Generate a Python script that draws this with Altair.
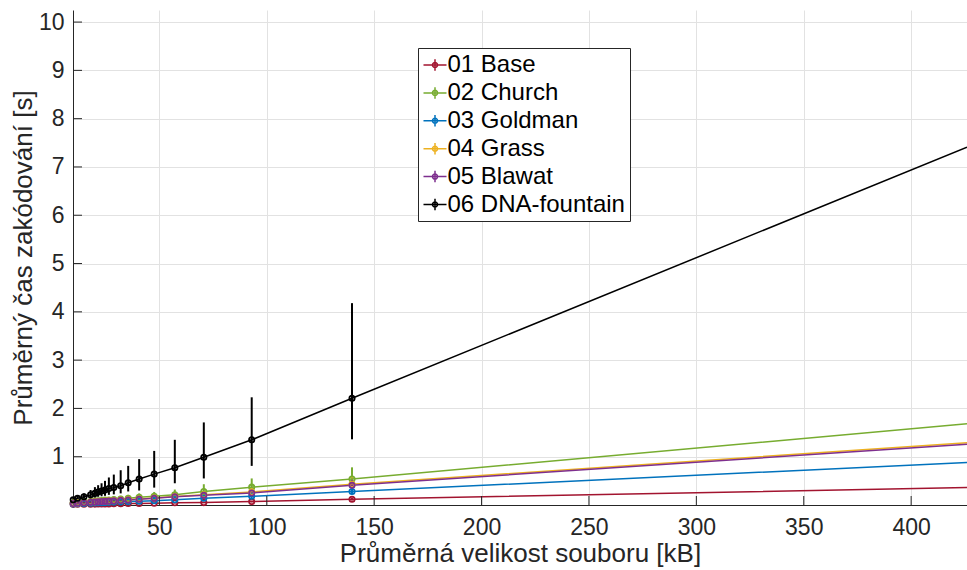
import altair as alt
import pandas as pd

# x positions: average file size [kB]
sizes = [9.9, 11.9, 14.9, 18.0, 20.0, 21.5, 23.1, 24.7, 26.5, 28.8, 32.0, 35.5, 40.6, 47.6, 57.2, 70.7, 93.0, 139.7, 426.0]

series_names = ["01 Base", "02 Church", "03 Goldman", "04 Grass", "05 Blawat", "06 DNA-fountain"]
series_colors = ["#A2142F", "#77AC30", "#0072BD", "#EDB120", "#7E2F8E", "#000000"]

base_mean = [0.013, 0.014, 0.016, 0.018, 0.019, 0.020, 0.021, 0.022, 0.023, 0.025, 0.027, 0.030, 0.033, 0.038, 0.045, 0.050, 0.070, 0.120, 0.36]
base_lo = [0.010, 0.011, 0.012, 0.014, 0.015, 0.016, 0.016, 0.017, 0.018, 0.019, 0.021, 0.023, 0.025, 0.029, 0.034, 0.038, 0.053, 0.090, None]
base_hi = [0.017, 0.018, 0.021, 0.023, 0.025, 0.026, 0.028, 0.029, 0.030, 0.033, 0.036, 0.040, 0.044, 0.051, 0.060, 0.066, 0.092, 0.155, None]

church_mean = [0.040, 0.050, 0.060, 0.070, 0.080, 0.085, 0.090, 0.100, 0.105, 0.115, 0.125, 0.140, 0.160, 0.180, 0.210, 0.280, 0.370, 0.540, 1.68]
church_lo = [0.030, 0.040, 0.050, 0.060, 0.065, 0.070, 0.075, 0.080, 0.085, 0.095, 0.100, 0.115, 0.130, 0.150, 0.170, 0.230, 0.300, 0.450, None]
church_hi = [0.060, 0.075, 0.090, 0.105, 0.120, 0.130, 0.135, 0.150, 0.160, 0.170, 0.190, 0.210, 0.240, 0.270, 0.320, 0.430, 0.550, 0.780, None]

goldman_mean = [0.023, 0.027, 0.032, 0.038, 0.042, 0.045, 0.048, 0.050, 0.055, 0.060, 0.065, 0.070, 0.080, 0.090, 0.110, 0.140, 0.180, 0.280, 0.88]
goldman_lo = [0.018, 0.021, 0.025, 0.030, 0.033, 0.035, 0.038, 0.040, 0.043, 0.047, 0.051, 0.055, 0.063, 0.071, 0.087, 0.110, 0.140, 0.220, None]
goldman_hi = [0.030, 0.035, 0.042, 0.050, 0.055, 0.058, 0.062, 0.066, 0.072, 0.078, 0.085, 0.092, 0.105, 0.120, 0.145, 0.180, 0.235, 0.360, None]

grass_mean = [0.035, 0.040, 0.050, 0.060, 0.065, 0.070, 0.075, 0.080, 0.085, 0.090, 0.100, 0.110, 0.125, 0.145, 0.175, 0.210, 0.270, 0.430, 1.29]
grass_lo = [0.028, 0.032, 0.040, 0.048, 0.052, 0.056, 0.060, 0.064, 0.068, 0.072, 0.080, 0.088, 0.100, 0.116, 0.140, 0.170, 0.220, 0.340, None]
grass_hi = [0.047, 0.054, 0.068, 0.081, 0.088, 0.095, 0.100, 0.110, 0.115, 0.120, 0.135, 0.150, 0.170, 0.195, 0.235, 0.280, 0.360, 0.580, None]

blawat_mean = [0.030, 0.035, 0.045, 0.055, 0.060, 0.065, 0.070, 0.075, 0.080, 0.085, 0.095, 0.105, 0.120, 0.140, 0.170, 0.200, 0.250, 0.410, 1.26]
blawat_lo = [0.024, 0.028, 0.036, 0.044, 0.048, 0.052, 0.056, 0.060, 0.064, 0.068, 0.076, 0.084, 0.096, 0.112, 0.136, 0.160, 0.200, 0.330, None]
blawat_hi = [0.040, 0.046, 0.058, 0.071, 0.078, 0.085, 0.091, 0.098, 0.104, 0.110, 0.124, 0.137, 0.156, 0.180, 0.220, 0.260, 0.330, 0.530, None]

fountain_mean = [0.11, 0.14, 0.17, 0.21, 0.24, 0.27, 0.29, 0.31, 0.34, 0.36, 0.40, 0.46, 0.54, 0.64, 0.77, 0.99, 1.35, 2.21, 7.41]
fountain_lo = [0.08, 0.10, 0.12, 0.14, 0.15, 0.17, 0.18, 0.19, 0.21, 0.22, 0.24, 0.28, 0.30, 0.36, 0.45, 0.55, 0.81, 1.36, None]
fountain_hi = [0.15, 0.19, 0.24, 0.31, 0.37, 0.41, 0.45, 0.50, 0.57, 0.63, 0.72, 0.81, 0.95, 1.12, 1.35, 1.71, 2.23, 4.18, None]

y_ticks = [1, 2, 3, 4, 5, 6, 7, 8, 9, 10]
x_ticks = [50, 100, 150, 200, 250, 300, 350, 400]

all_series = [
    (base_mean, base_lo, base_hi),
    (church_mean, church_lo, church_hi),
    (goldman_mean, goldman_lo, goldman_hi),
    (grass_mean, grass_lo, grass_hi),
    (blawat_mean, blawat_lo, blawat_hi),
    (fountain_mean, fountain_lo, fountain_hi),
]

rows = []
for name, (m, lo, hi) in zip(series_names, all_series):
    for i, x in enumerate(sizes):
        rows.append({"series": name, "x": x, "mean": m[i], "lo": lo[i], "hi": hi[i],
                     "marker": lo[i] is not None})
df = pd.DataFrame(rows)

FONT = "Liberation Sans"
AX = "#262626"
X_TITLE = "Průměrná velikost souboru [kB]"
Y_TITLE = "Průměrný čas zakódování [s]"

xscale = alt.Scale(domain=[9.8, 426], nice=False, zero=False)
yscale = alt.Scale(domain=[0, 10.25], nice=False, zero=False)

legend_symbol = ("M-1,0H1M0,-0.5V0.5"
                 "M0.22,0A0.22,0.22 0 1,1 -0.22,0A0.22,0.22 0 1,1 0.22,0Z")

color = alt.Color(
    "series:N",
    scale=alt.Scale(domain=series_names, range=series_colors),
    legend=alt.Legend(
        title=None, orient="none", legendX=345, legendY=38,
        symbolType=legend_symbol, symbolSize=530, symbolStrokeWidth=1.5,
        labelFontSize=24, labelFont=FONT, labelColor="#000000",
        labelOffset=0, rowPadding=2.9, padding=4.5,
        strokeColor=AX, fillColor="#ffffff", cornerRadius=0,
        labelLimit=400,
    ),
)

xenc = alt.X("x:Q", scale=xscale, title=X_TITLE,
             axis=alt.Axis(values=x_ticks, grid=True, tickSize=0, labelPadding=11,
                           titlePadding=1))
yenc = alt.Y("mean:Q", scale=yscale, title=Y_TITLE,
             axis=alt.Axis(values=y_ticks, grid=True, tickSize=0, labelPadding=9,
                           titlePadding=2))

base = alt.Chart(df)

errbars = base.mark_rule(strokeWidth=2).encode(
    x=xenc,
    y=alt.Y("lo:Q", scale=yscale, title=Y_TITLE),
    y2="hi:Q",
    color=color,
).transform_filter("datum.marker")

lines = base.mark_line(strokeWidth=1.5).encode(
    x=xenc, y=yenc, color=color, order="x:Q"
)

points = base.mark_point(filled=False, size=28, strokeWidth=1.8, opacity=1).encode(
    x=xenc, y=yenc, color=color
).transform_filter("datum.marker")

ytick_df = pd.DataFrame({"mean": y_ticks})
xtick_df = pd.DataFrame({"x": x_ticks})

yt = alt.Chart(ytick_df).mark_rule(color=AX, strokeWidth=1).encode(
    y=alt.Y("mean:Q", scale=yscale, title=Y_TITLE), x=alt.value(0), x2=alt.value(9)
)
xt = alt.Chart(xtick_df).mark_rule(color=AX, strokeWidth=1).encode(
    x=alt.X("x:Q", scale=xscale, title=X_TITLE), y=alt.value(495), y2=alt.value(486)
)

chart = alt.layer(errbars, lines, points, yt, xt).properties(
    width=894, height=495,
    padding={"left": 73, "top": 10, "right": 0, "bottom": 65},
    autosize=alt.AutoSizeParams(type="none"),
    background="#ffffff",
).configure_view(stroke=None).configure_axis(
    labelFont=FONT, titleFont=FONT, labelFontSize=23, titleFontSize=26,
    labelColor=AX, titleColor=AX, titleFontWeight="normal",
    domainColor=AX, domainWidth=1, gridColor="#e2e2e2", gridWidth=1,
)

chart.save("out.html", embed_options={"renderer": "svg", "actions": False})
